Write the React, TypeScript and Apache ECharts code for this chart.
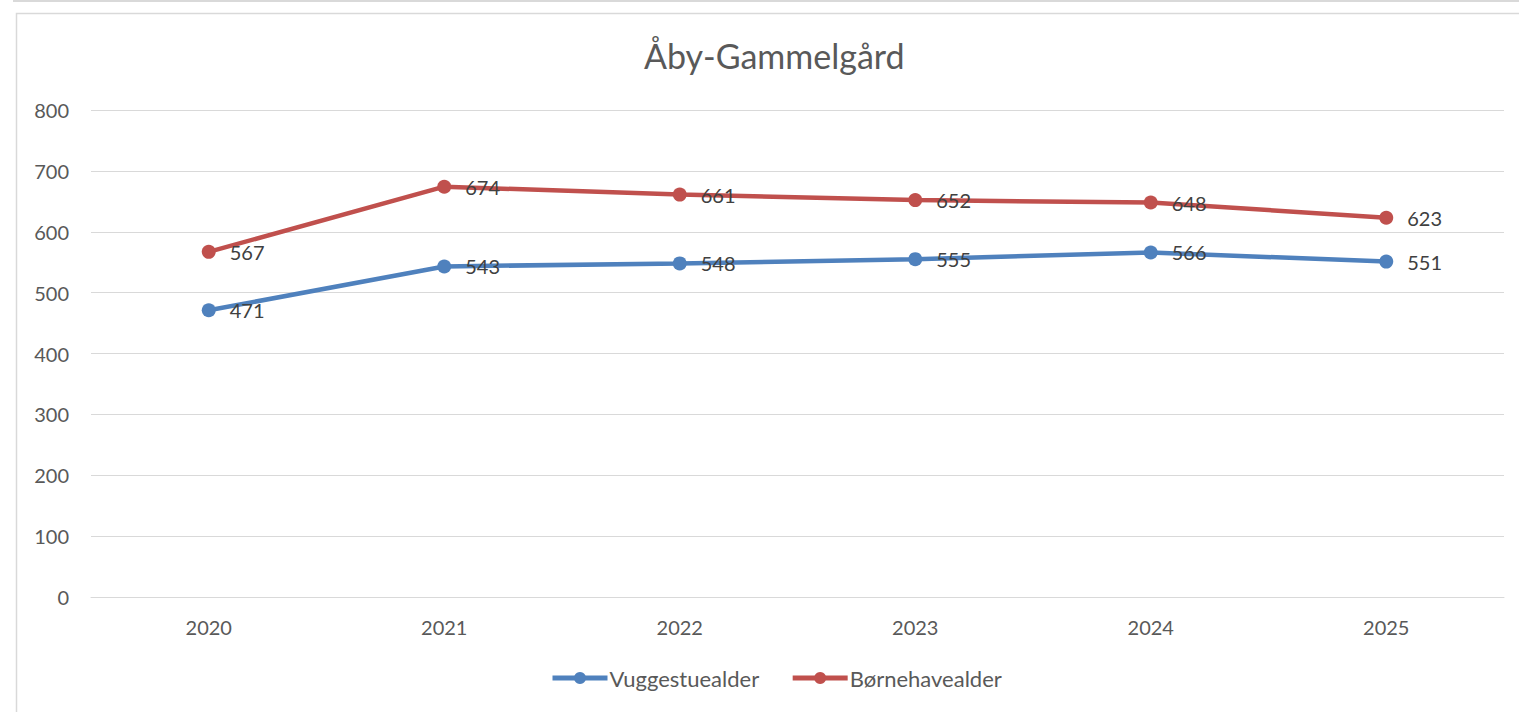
import React, { useEffect, useRef } from "react";
import * as echarts from "echarts";

const categories = ["2020", "2021", "2022", "2023", "2024", "2025"];
const vuggestue = [471, 543, 548, 555, 566, 551];
const boernehave = [567, 674, 661, 652, 648, 623];
const seriesNames = ["Vuggestuealder", "Børnehavealder"];
const title = "Åby-Gammelgård";

const FONT = "Lato, 'Open Sans', sans-serif";

export default function App() {
  const ref = useRef<HTMLDivElement>(null);
  useEffect(() => {
    if (!ref.current) return;
    const chart = echarts.init(ref.current, null, { renderer: "svg" });
    const labelCfg = {
      show: true,
      position: "right",
      distance: 14,
      offset: [0, 0],
      color: "#404040",
      fontSize: 20,
      fontFamily: FONT,
    };
    chart.setOption({
      animation: false,
      backgroundColor: "#ffffff",
      textStyle: { fontFamily: FONT },
      title: {
        text: title,
        left: 639,
        top: 33,
        textStyle: { fontSize: 34, fontWeight: "normal", color: "#595959", fontFamily: FONT },
      },
      graphic: [
        {
          type: "line",
          shape: { x1: 13, y1: 1, x2: 1519, y2: 1 },
          style: { stroke: "#d9d9d9", lineWidth: 2 },
        },
        {
          type: "rect",
          shape: { x: 16.5, y: 13.5, width: 1520, height: 720 },
          style: { fill: "none", stroke: "#d9d9d9", lineWidth: 1.5 },
          z: -1,
        },
      ],
      grid: { left: 91, right: 15, top: 110, bottom: 115, containLabel: false },
      legend: {
        bottom: 18,
        left: 545,
        itemWidth: 55,
        itemHeight: 15,
        itemGap: 31,
        lineStyle: { width: 5 },
        textStyle: { fontSize: 22, color: "#595959", fontFamily: FONT, padding: [0, 0, 0, -3] },
        data: seriesNames,
      },
      xAxis: {
        type: "category",
        data: categories,
        boundaryGap: true,
        axisLine: { show: true, lineStyle: { color: "#d9d9d9", width: 1 } },
        axisTick: { show: false },
        axisLabel: { color: "#595959", fontSize: 20, margin: 20, fontFamily: FONT },
      },
      yAxis: {
        type: "value",
        min: 0,
        max: 800,
        interval: 100,
        axisLine: { show: false },
        axisTick: { show: false },
        axisLabel: { color: "#595959", fontSize: 20, margin: 22, fontFamily: FONT },
        splitLine: { lineStyle: { color: "#d9d9d9", width: 1 } },
      },
      series: [
        {
          name: seriesNames[0],
          type: "line",
          data: vuggestue,
          symbol: "circle",
          symbolSize: 14,
          itemStyle: { color: "#4f81bd" },
          lineStyle: { color: "#4f81bd", width: 4.5 },
          label: labelCfg,
        },
        {
          name: seriesNames[1],
          type: "line",
          data: boernehave,
          symbol: "circle",
          symbolSize: 14,
          itemStyle: { color: "#c0504d" },
          lineStyle: { color: "#c0504d", width: 4.5 },
          label: labelCfg,
        },
      ],
    });
    return () => chart.dispose();
  }, []);
  return (
    <div
      ref={ref}
      style={{ position: "fixed", left: 0, top: 0, width: 1519, height: 712 }}
    />
  );
}
